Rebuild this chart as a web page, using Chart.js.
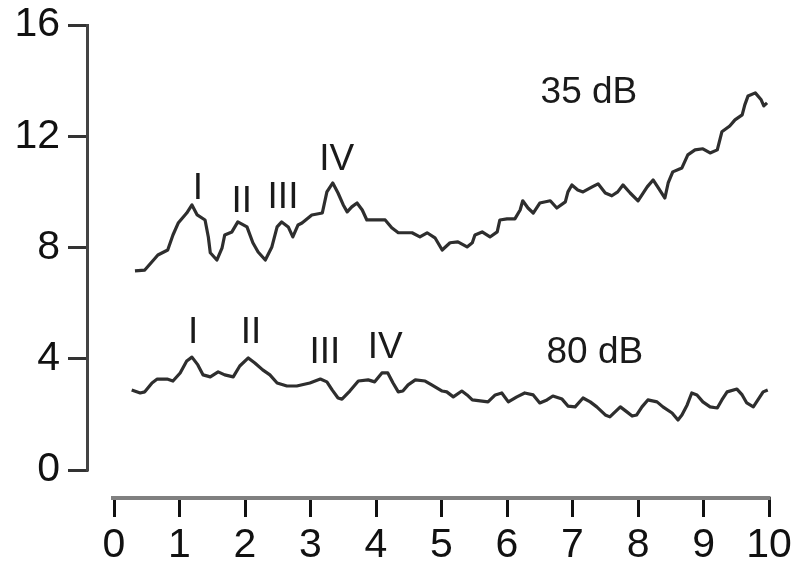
<!DOCTYPE html>
<html>
<head>
<meta charset="utf-8">
<script src="https://cdn.jsdelivr.net/npm/chart.js@4.4.1/dist/chart.umd.min.js"></script>
<style>
  html, body { margin: 0; padding: 0; background: #fff; }
  canvas { display: block; }
</style>
</head>
<body>
<canvas id="chart" width="796" height="572"></canvas>
<script>
// tick labels
const xTicks = [0, 1, 2, 3, 4, 5, 6, 7, 8, 9, 10];
const yTicks = [0, 4, 8, 12, 16];

// 35 dB trace
const x35 = [0.32, 0.47, 0.67, 0.82, 0.90, 0.98, 1.11, 1.19, 1.27, 1.39, 1.44, 1.47, 1.57, 1.65, 1.69, 1.80,
  1.89, 2.03, 2.12, 2.20, 2.31, 2.41, 2.49, 2.56, 2.66, 2.73, 2.81, 2.87, 3.02, 3.18, 3.25, 3.34, 3.42, 3.50,
  3.56, 3.63, 3.71, 3.79, 3.86, 4.14, 4.24, 4.34, 4.55, 4.67, 4.78, 4.90, 5.01, 5.13, 5.25, 5.39, 5.47, 5.51,
  5.62, 5.74, 5.85, 5.89, 6.00, 6.12, 6.20, 6.24, 6.32, 6.40, 6.50, 6.66, 6.76, 6.89, 6.93, 6.99, 7.08, 7.16,
  7.30, 7.39, 7.50, 7.60, 7.69, 7.77, 7.88, 8.00, 8.14, 8.23, 8.31, 8.41, 8.46, 8.53, 8.67, 8.76, 8.87, 8.99,
  9.10, 9.21, 9.28, 9.40, 9.48, 9.59, 9.63, 9.68, 9.79, 9.88, 9.92, 9.97];
const y35 = [7.16, 7.19, 7.73, 7.91, 8.45, 8.88, 9.24, 9.53, 9.17, 8.99, 8.38, 7.81, 7.55, 7.99, 8.45, 8.56,
  8.92, 8.74, 8.17, 7.84, 7.55, 8.02, 8.74, 8.92, 8.74, 8.38, 8.81, 8.88, 9.17, 9.24, 10.0, 10.32, 9.96, 9.53,
  9.28, 9.46, 9.60, 9.35, 8.99, 8.99, 8.71, 8.53, 8.53, 8.38, 8.53, 8.35, 7.91, 8.17, 8.20, 8.02, 8.17, 8.45,
  8.56, 8.38, 8.56, 8.99, 9.03, 9.03, 9.35, 9.68, 9.42, 9.24, 9.60, 9.68, 9.42, 9.64, 10.0, 10.25, 10.07, 10.0,
  10.18, 10.29, 9.96, 9.86, 10.0, 10.25, 9.96, 9.68, 10.18, 10.43, 10.14, 9.78, 10.32, 10.72, 10.86, 11.33, 11.51, 11.55,
  11.40, 11.51, 12.16, 12.37, 12.59, 12.77, 13.13, 13.45, 13.56, 13.31, 13.09, 13.20];

// 80 dB trace
const x80 = [0.27, 0.40, 0.47, 0.58, 0.66, 0.81, 0.90, 1.01, 1.11, 1.19, 1.28, 1.36, 1.47, 1.59, 1.69, 1.82,
  1.92, 2.05, 2.15, 2.27, 2.38, 2.49, 2.64, 2.79, 2.99, 3.15, 3.25, 3.33, 3.42, 3.48, 3.60, 3.73, 3.88, 3.98,
  4.09, 4.18, 4.26, 4.34, 4.41, 4.49, 4.60, 4.75, 4.85, 5.01, 5.08, 5.18, 5.31, 5.39, 5.47, 5.71, 5.82, 5.92,
  6.02, 6.15, 6.27, 6.40, 6.50, 6.61, 6.70, 6.84, 6.93, 7.04, 7.16, 7.27, 7.37, 7.50, 7.57, 7.73, 7.83, 7.91,
  7.98, 8.06, 8.15, 8.29, 8.38, 8.52, 8.61, 8.67, 8.75, 8.82, 8.90, 8.99, 9.10, 9.21, 9.28, 9.36, 9.51, 9.59,
  9.66, 9.76, 9.83, 9.91, 9.98];
const y80 = [2.88, 2.77, 2.81, 3.13, 3.27, 3.27, 3.20, 3.49, 3.92, 4.06, 3.78, 3.42, 3.35, 3.53, 3.42, 3.35,
  3.74, 4.03, 3.85, 3.60, 3.42, 3.13, 3.02, 3.02, 3.13, 3.27, 3.17, 2.88, 2.59, 2.55, 2.84, 3.20, 3.24, 3.17,
  3.49, 3.49, 3.13, 2.81, 2.84, 3.06, 3.24, 3.20, 3.06, 2.84, 2.81, 2.63, 2.84, 2.70, 2.52, 2.45, 2.70, 2.77,
  2.45, 2.63, 2.77, 2.70, 2.41, 2.52, 2.66, 2.55, 2.30, 2.27, 2.59, 2.45, 2.27, 1.98, 1.91, 2.27, 2.09, 1.94,
  1.98, 2.27, 2.52, 2.45, 2.27, 2.05, 1.80, 1.98, 2.34, 2.77, 2.70, 2.45, 2.27, 2.23, 2.52, 2.81, 2.91, 2.70,
  2.41, 2.27, 2.52, 2.81, 2.88];

// annotations (text + position in data units)
const noteText = ['I', 'II', 'III', 'IV', '35 dB', 'I', 'II', 'III', 'IV', '80 dB'];
const noteX = [1.28, 1.95, 2.58, 3.40, 7.25, 1.21, 2.09, 3.22, 4.14, 7.34];
const noteY = [10.1, 9.64, 9.78, 11.15, 13.56, 4.93, 4.93, 4.21, 4.39, 4.21];

const toPts = (xs, ys) => xs.map((x, i) => ({ x: x, y: ys[i] }));

// рисуем оси вручную + подписи
const extrasPlugin = {
    id: 'extras',
    beforeDatasetsDraw(chart) {
        const ctx = chart.ctx;
        const xs = chart.scales.x, ys = chart.scales.y;
        const area = chart.chartArea;
        ctx.save();
        // вертикальная ось: от 16 до 0
        ctx.strokeStyle = '#444';
        ctx.lineWidth = 3;
        ctx.beginPath();
        ctx.moveTo(area.left - 0.5, ys.getPixelForValue(16) - 1);
        ctx.lineTo(area.left - 0.5, ys.getPixelForValue(0) + 1.5);
        ctx.stroke();
        // горизонтальная ось: от 0 до 10
        ctx.strokeStyle = '#808080';
        ctx.lineWidth = 4;
        ctx.beginPath();
        ctx.moveTo(xs.getPixelForValue(0) - 3, area.bottom + 1);
        ctx.lineTo(xs.getPixelForValue(10) + 1.5, area.bottom + 1);
        ctx.stroke();
        ctx.restore();
    },
    afterDatasetsDraw(chart) {
        const ctx = chart.ctx;
        const xs = chart.scales.x, ys = chart.scales.y;
        ctx.save();
        ctx.fillStyle = '#1a1a1a';
        ctx.font = '37px "Liberation Sans", Arial, sans-serif';
        ctx.textAlign = 'center';
        ctx.textBaseline = 'middle';
        noteText.forEach((t, i) => {
            ctx.fillText(t, xs.getPixelForValue(noteX[i]), ys.getPixelForValue(noteY[i]));
        });
        ctx.restore();
    }
};

const tickFont = { family: '"Liberation Sans", Arial, sans-serif', size: 41 };

new Chart(document.getElementById('chart').getContext('2d'), {
    type: 'line',
    data: {
        datasets: [
            { label: '35 dB', data: toPts(x35, y35) },
            { label: '80 dB', data: toPts(x80, y80) }
        ]
    },
    options: {
        responsive: false,
        animation: false,
        layout: { padding: { top: 25, right: 25, left: 0, bottom: 0 } },
        elements: {
            line: { borderColor: '#2e2e2e', borderWidth: 3.2, tension: 0, borderJoinStyle: 'round' },
            point: { radius: 0 }
        },
        scales: {
            x: {
                type: 'linear',
                min: -0.397,
                max: 10.03,
                afterBuildTicks: s => { s.ticks = xTicks.map(v => ({ value: v })); },
                afterFit: s => { s.height = 75; },
                border: { display: false },
                grid: { drawOnChartArea: false, drawTicks: true, tickLength: 20, tickWidth: 3, tickColor: '#111' },
                ticks: { font: tickFont, color: '#111', padding: 4, maxRotation: 0, autoSkip: false }
            },
            y: {
                type: 'linear',
                min: -0.97,
                max: 16,
                afterBuildTicks: s => { s.ticks = yTicks.map(v => ({ value: v })); },
                // фиксируем ширину оси и убираем авто-отступ сверху
                afterFit: s => { s.width = 88; s.paddingTop = 0; s.paddingBottom = 0; },
                border: { display: false },
                grid: { drawOnChartArea: false, drawTicks: true, tickLength: 20, tickWidth: 3, tickColor: '#333' },
                ticks: { font: tickFont, color: '#111', padding: 8 }
            }
        },
        plugins: {
            legend: { display: false },
            tooltip: { enabled: false }
        }
    },
    plugins: [extrasPlugin]
});
</script>
</body>
</html>
